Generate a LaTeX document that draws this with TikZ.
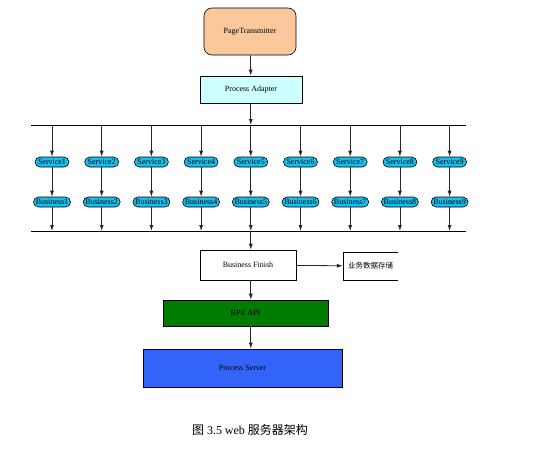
\documentclass[tikz,border=0pt]{standalone}
\usepackage{fontspec}
\setmainfont{Liberation Serif}
\newfontfamily\cjk{Noto Sans CJK SC}
\usetikzlibrary{arrows.meta}
\definecolor{pageorange}{RGB}{250,200,155}
\definecolor{adaptercyan}{RGB}{204,255,255}
\definecolor{servicecyan}{RGB}{25,190,235}
\definecolor{bpegreen}{RGB}{0,125,0}
\definecolor{serverblue}{RGB}{50,100,250}
\begin{document}
\begin{tikzpicture}[x=1pt,y=-1pt,
  font=\fontsize{8}{9}\selectfont,
  flow/.style={-{Latex[length=6pt,width=4pt]},line width=0.8pt,draw=black!85},
  box/.style={draw,line width=0.6pt,inner sep=0pt},
  pill/.style={draw,line width=0.6pt,rounded corners=5pt,fill=servicecyan,minimum height=10pt,inner sep=0.8pt}]
\useasboundingbox (0,0) rectangle (549,458);
% y runs downwards, 1pt = 1px of the 549x458 sheet
\node[box,rounded corners=8pt,fill=pageorange,minimum width=92pt,minimum height=47pt] (page) at (250,31.5) {PageTransmitter};
\node[box,fill=adaptercyan,minimum width=102pt,minimum height=27pt] (adapter) at (251,89.5) {Process Adapter};
% the two bus lines
\coordinate (topL) at (31,125); \coordinate (topR) at (466,125);
\coordinate (botL) at (31,231); \coordinate (botR) at (466,231);
\draw[line width=0.8pt] (topL) -- (topR);
\draw[line width=0.8pt] (botL) -- (botR);
% nine columns, pitch 49.7
\foreach \i in {1,...,9}{
  \pgfmathsetmacro\cx{52+49.7*(\i-1)}
  \coordinate (top\i) at (\cx,125);
  \coordinate (bot\i) at (\cx,231);
  \node[pill,minimum width=34pt] (svc\i) at (\cx,162) {Service\i};
  \node[pill,minimum width=37pt] (biz\i) at (\cx,202) {Business\i};
  \draw[flow] (top\i) -- (svc\i);
  \draw[flow] (svc\i) -- (biz\i);
  \draw[flow] (biz\i) -- (bot\i);
}
\draw[flow] (page) -- (adapter);
\draw[flow] (adapter.south -| top5) -- (top5);
\node[box,fill=white,minimum width=96pt,minimum height=30pt] (finish) at (248,265) {Business Finish};
\node[inner sep=0pt,minimum width=55pt,minimum height=28pt,font=\fontsize{7.5}{9}\selectfont] (store) at (370.5,266) {\cjk 业务数据存储};
\draw[line width=0.6pt] (store.north east) -- (store.north west) -- (store.south west) -- (store.south east);
\node[box,fill=bpegreen,minimum width=165pt,minimum height=26pt] (bpe) at (245.5,313) {BPE API};
\node[box,fill=serverblue,minimum width=199pt,minimum height=38pt] (server) at (242.5,368) {Process Server};
\draw[flow] (bot5) -- (bot5 |- finish.north);
\draw[flow] (finish) -- (store);
\draw[flow] (top5 |- finish.south) -- (top5 |- bpe.north);
\draw[flow] (top5 |- bpe.south) -- (top5 |- server.north);
\node[font=\fontsize{12}{14}\selectfont] (caption) at (250,430) {{\cjk 图} 3.5 web {\cjk 服务器架构}};
\end{tikzpicture}
\end{document}
